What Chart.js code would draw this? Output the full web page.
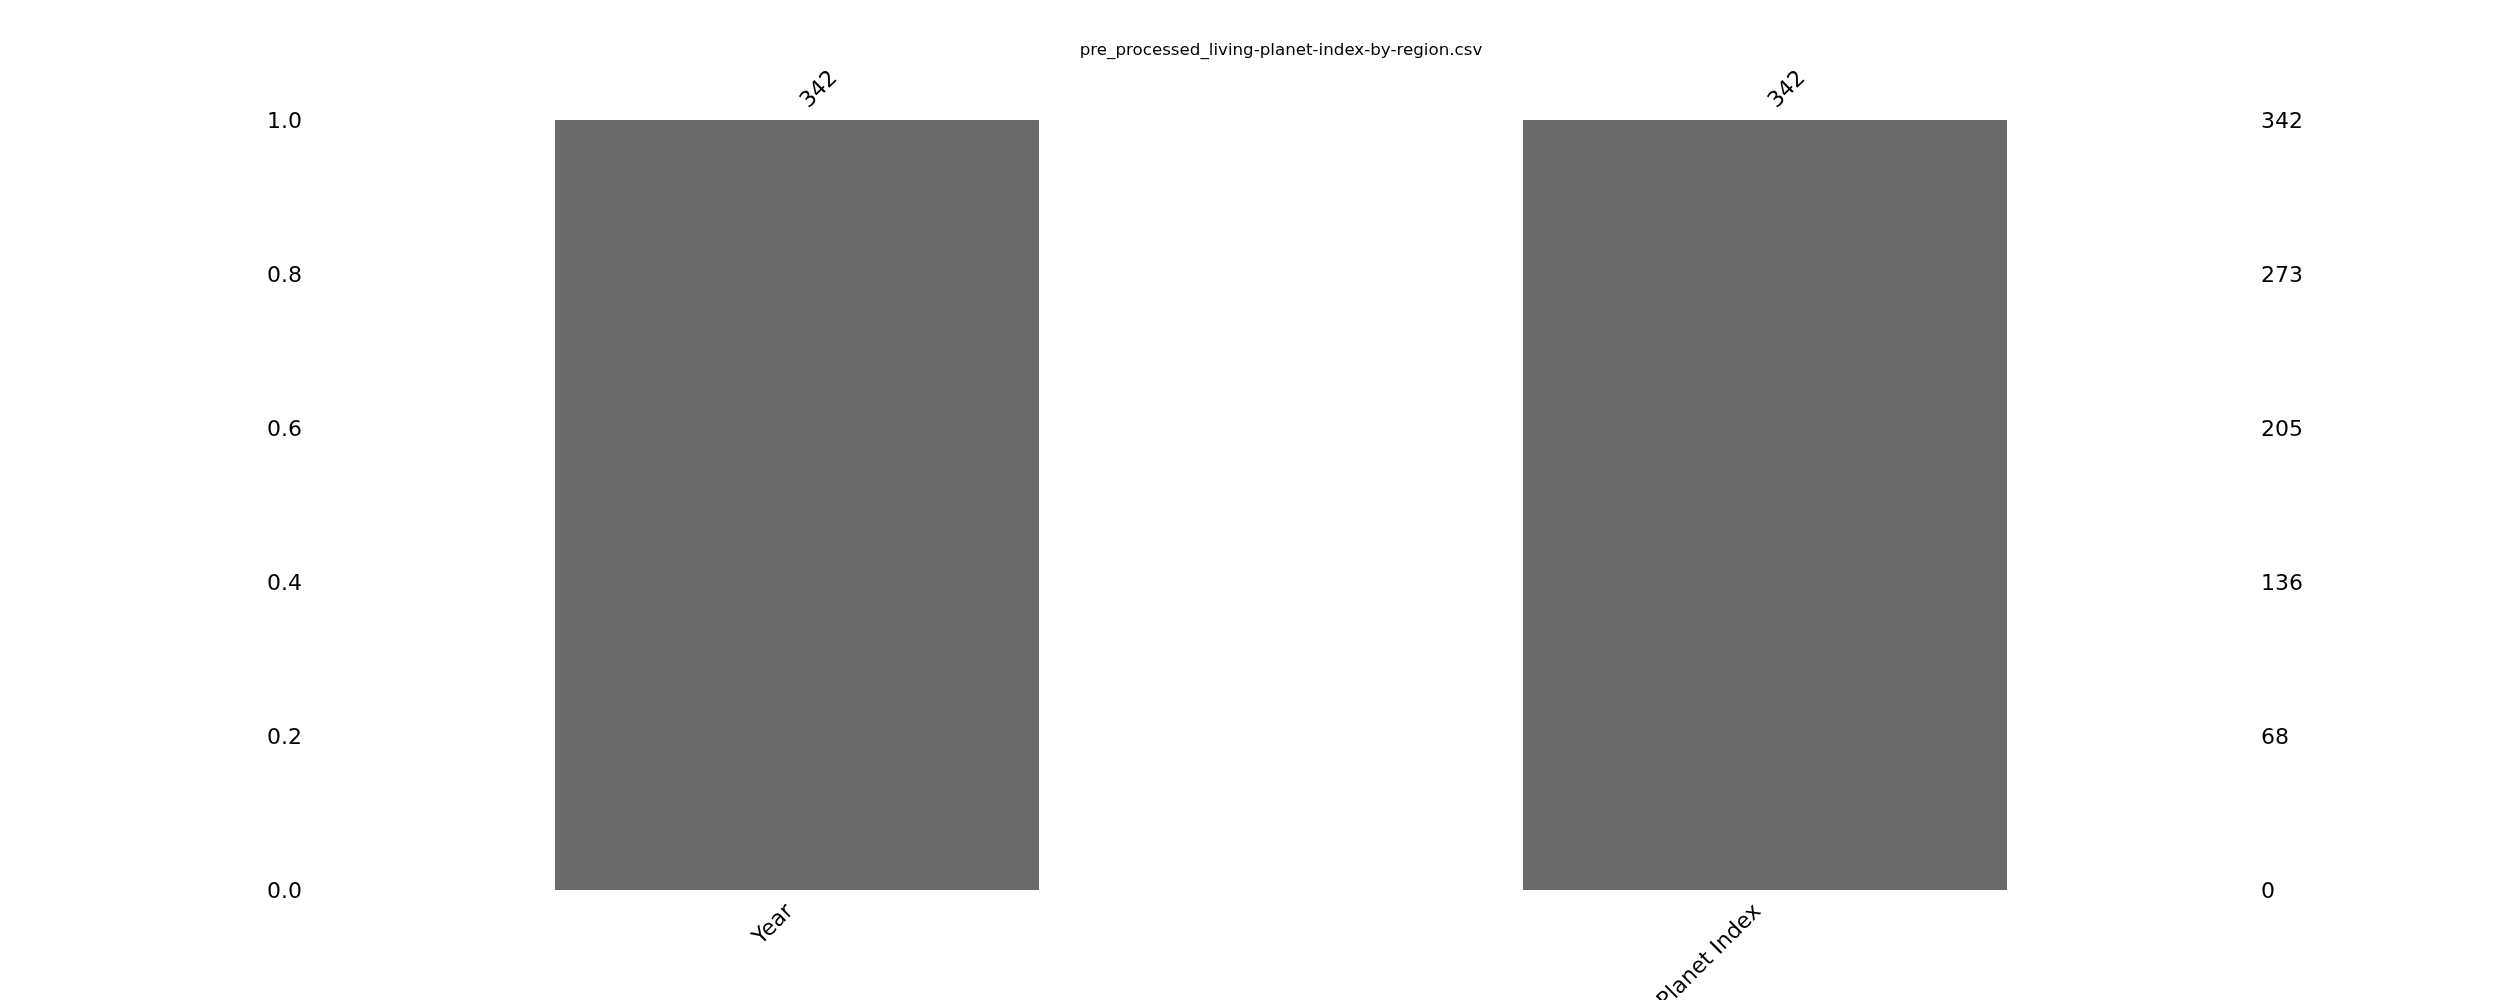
<!DOCTYPE html>
<html>
<head>
<meta charset="utf-8">
<script src="https://cdn.jsdelivr.net/npm/chart.js@4.4.1/dist/chart.umd.min.js"></script>
<style>
  html, body { margin: 0; padding: 0; background: #ffffff; }
  #wrap { width: 2500px; height: 1000px; overflow: hidden; }
  canvas { display: block; }
</style>
</head>
<body>
<div id="wrap"><canvas id="c" width="2500" height="1000"></canvas></div>
<script>
// ---- data ----
const chartTitle = 'pre_processed_living-planet-index-by-region.csv';
const categories = ['Year', 'Living Planet Index'];
const counts = [342, 342];
const totalRows = 342;
const leftTickLabels = ['0.0', '0.2', '0.4', '0.6', '0.8', '1.0'];
const rightTickLabels = ['0', '68', '136', '205', '273', '342'];

const fractions = counts.map(c => c / totalRows);
const FONT = 'DejaVu Sans';

new Chart(document.getElementById('c'), {
  type: 'bar',
  data: {
    labels: categories,
    datasets: [{
      data: fractions,
      backgroundColor: '#696969',
      borderWidth: 0,
      categoryPercentage: 1.0,
      barPercentage: 0.5,
      xAxisID: 'x',
      yAxisID: 'y'
    }]
  },
  options: {
    responsive: false,
    animation: false,
    devicePixelRatio: 1,
    layout: { padding: 0 },
    plugins: {
      legend: { display: false },
      tooltip: { enabled: false },
      title: {
        display: true,
        fullSize: false,
        text: chartTitle,
        color: '#000000',
        font: { family: FONT, size: 16.7, weight: 'normal' },
        padding: { top: 41, bottom: 10 }
      }
    },
    scales: {
      x: {
        position: 'bottom',
        grid: { display: false, drawTicks: false },
        border: { display: false },
        ticks: {
          color: '#000000',
          font: { family: FONT, size: 22 },
          minRotation: 45,
          maxRotation: 45,
          autoSkip: false,
          padding: 9,
          labelOffset: -7
        },
        afterFit: s => { s.height = 110; }
      },
      x2: {
        type: 'category',
        position: 'top',
        labels: counts.map(String),
        offset: true,
        grid: { display: false, drawTicks: false },
        border: { display: false },
        ticks: {
          color: '#000000',
          font: { family: FONT, size: 22 },
          minRotation: 45,
          maxRotation: 45,
          autoSkip: false,
          padding: 6,
          labelOffset: 26
        },
        afterFit: s => { s.height = 49; }
      },
      y: {
        position: 'left',
        min: 0,
        max: 1,
        grid: { display: false, drawTicks: false },
        border: { display: false },
        ticks: {
          stepSize: 0.2,
          color: '#000000',
          font: { family: FONT, size: 22 },
          padding: 11,
          labelOffset: 2,
          callback: (v, i) => leftTickLabels[i]
        },
        afterFit: s => { s.width = 313; }
      },
      y2: {
        position: 'right',
        min: 0,
        max: 1,
        grid: { display: false, drawTicks: false },
        border: { display: false },
        ticks: {
          stepSize: 0.2,
          color: '#000000',
          font: { family: FONT, size: 22 },
          padding: 12,
          labelOffset: 2,
          callback: (v, i) => rightTickLabels[i]
        },
        afterFit: s => { s.width = 251; }
      }
    }
  }
});
</script>
</body>
</html>
